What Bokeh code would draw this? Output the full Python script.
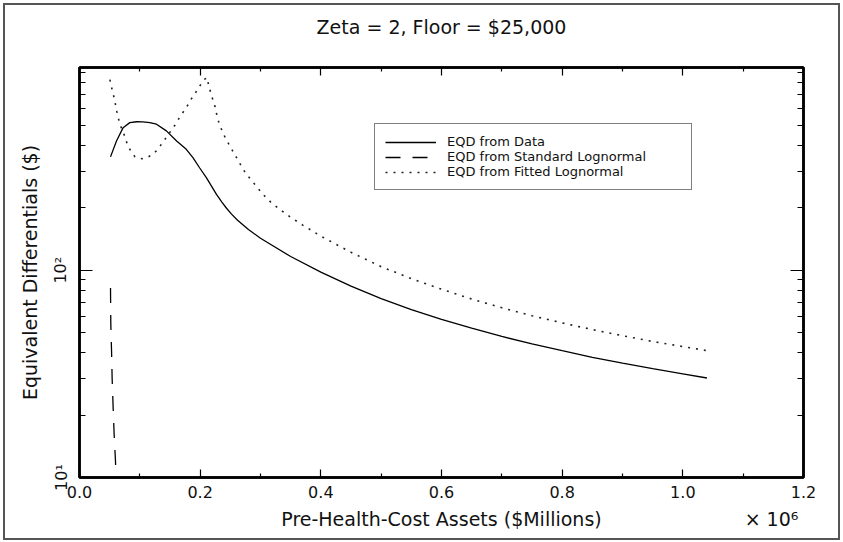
from bokeh.plotting import figure
from bokeh.models import (LinearAxis, LogAxis, FixedTicker, Legend, LegendItem,
                          Range1d)
from bokeh.embed import file_html
from bokeh.resources import INLINE

# ---------------- texts ----------------
title_text = "Zeta = 2, Floor = $25,000"
x_label = "Pre-Health-Cost Assets ($Millions)"
y_label = "Equivalent Differentials ($)"
x_scale_note = "\u00d7 10\u2076"
series_names = ["EQD from Data", "EQD from Standard Lognormal", "EQD from Fitted Lognormal"]

# ---------------- ticks ----------------
x_ticks = [0, 200000, 400000, 600000, 800000, 1000000, 1200000]
x_tick_labels = ["0.0", "0.2", "0.4", "0.6", "0.8", "1.0", "1.2"]
x_minor_ticks = [100000, 300000, 500000, 700000, 900000, 1100000]
y_ticks = [10, 100, 1000]
y_tick_labels = ["10\u00b9", "10\u00b2", "10\u00b3"]
y_minor_ticks = [20, 30, 40, 50, 60, 70, 80, 90, 200, 300, 400, 500, 600, 700, 800, 900]
x_min, x_max = 0, 1200000
y_min, y_max = 10, 950
# anchors (in x data units) of the axis-title row: centred title and the scale note
x_title_anchor = 600000
x_note_anchor = 1147000

# ---------------- data ----------------
data_x = [51400, 61300, 72300, 83400, 94500, 105000, 116500, 127600, 144000, 161000,
          177000, 188000, 199000, 210500, 227000, 236000, 243700, 252000, 262000, 280000,
          300000, 350000, 400000, 450000, 500000, 550000, 600000, 650000, 700000, 750000,
          800000, 850000, 900000, 950000, 1000000, 1040000]
data_y = [352, 420, 487, 515, 520, 519, 515, 506, 470, 420,
          383, 349, 312, 279, 232, 213, 199, 186.4, 174.1, 157.1,
          142.6, 116.4, 97.9, 83.7, 73.0, 64.6, 57.9, 52.5, 47.9, 44.1,
          40.9, 38.0, 35.6, 33.5, 31.6, 30.2]

std_x = [51400, 51500, 51900, 53100, 54100, 55700, 57400, 59700, 60600]
std_y = [82, 75, 55, 41, 30, 22, 16.2, 11.9, 9.5]

fit_x = [50400, 53000, 56000, 59000, 62000, 66000, 70000, 75000, 80000, 86000,
         92000, 100000, 104000, 112000, 118000, 124000, 130000, 137000, 144000, 151000,
         158000, 165000, 172000, 178000, 184000, 190000, 196000, 202000, 207000, 211500,
         213500, 217000, 220500, 224500, 227000, 229700, 233700, 238000, 243700, 250300,
         256300, 263000, 269500, 276800, 286100, 296000, 305500, 317000, 330300, 350000,
         370000, 400000, 450000, 500000, 550000, 600000, 650000, 700000, 750000, 800000,
         850000, 900000, 950000, 1000000, 1040000]
fit_y = [830, 765, 705, 645, 580, 518, 480, 443, 398, 372,
         352, 346, 345, 350, 357, 368, 383, 410, 437, 468,
         500, 540, 580, 615, 662, 700, 748, 795, 832, 850,
         795, 726, 672, 618, 571, 530, 491, 458, 424, 393,
         365, 339, 312, 290, 269, 248, 230, 213, 198, 180,
         165, 146, 122, 104, 91, 81, 72.6, 65.9, 60.3, 55.7,
         51.7, 48.3, 45.3, 42.8, 40.9]

FONT = "DejaVu Sans"
INK = "#111111"

p = figure(frame_width=724, frame_height=410,
           min_border_left=79, min_border_right=40,
           min_border_top=66, min_border_bottom=66,
           x_range=Range1d(x_min, x_max), y_range=Range1d(y_min, y_max),
           y_axis_type="log", output_backend="svg", toolbar_location=None,
           title=title_text, background_fill_color="white",
           border_fill_color="white", border_fill_alpha=0)
p.styles = {"background-color": "white",
            "box-shadow": "inset 0 0 0 3px white, inset 0 0 0 5px #555555"}

p.title.align = "center"
p.title.text_font = FONT
p.title.text_font_size = "19px"
p.title.text_font_style = "normal"
p.title.text_color = INK
p.title.standoff = 26

p.xgrid.visible = False
p.ygrid.visible = False
p.outline_line_color = "black"
p.outline_line_width = 2.5

x_over = {t: l for t, l in zip(x_ticks, x_tick_labels)}
y_over = {t: l for t, l in zip(y_ticks, y_tick_labels)}


def style_axis(ax, major_len, minor_len):
    ax.axis_line_color = "black"
    ax.axis_line_width = 2.5
    ax.major_tick_in = major_len
    ax.major_tick_out = 0
    ax.minor_tick_in = minor_len
    ax.minor_tick_out = 0
    ax.major_tick_line_color = "black"
    ax.minor_tick_line_color = "black"
    ax.major_tick_line_width = 1.2
    ax.minor_tick_line_width = 1.2
    ax.major_label_text_font = FONT
    ax.major_label_text_color = INK
    ax.axis_label_text_font = FONT
    ax.axis_label_text_font_style = "normal"
    ax.axis_label_text_color = INK


xa = p.xaxis[0]
xa.ticker = FixedTicker(ticks=x_ticks, minor_ticks=x_minor_ticks)
xa.major_label_overrides = x_over
style_axis(xa, 8, 4)
xa.major_label_text_font_size = "16px"
xa.major_label_standoff = 8

# second row below the x axis: the axis title and the "x 10^6" scale note
xa2 = LinearAxis(ticker=FixedTicker(ticks=[x_title_anchor, x_note_anchor]))
xa2.major_label_overrides = {x_title_anchor: x_label, x_note_anchor: x_scale_note}
xa2.axis_line_color = None
xa2.major_tick_line_color = None
xa2.minor_tick_line_color = None
xa2.major_tick_in = 0
xa2.major_tick_out = 0
xa2.minor_tick_in = 0
xa2.minor_tick_out = 0
xa2.major_label_standoff = 7
xa2.major_label_text_font = FONT
xa2.major_label_text_font_size = "19px"
xa2.major_label_text_color = INK
p.add_layout(xa2, "below")

ya = p.yaxis[0]
ya.ticker = FixedTicker(ticks=y_ticks, minor_ticks=y_minor_ticks)
ya.major_label_overrides = y_over
style_axis(ya, 13, 6)
ya.major_label_text_font_size = "16px"
ya.major_label_orientation = "vertical"
ya.major_label_standoff = 9
ya.axis_label = y_label
ya.axis_label_text_font_size = "19px"
ya.axis_label_standoff = 8

top = LinearAxis(ticker=FixedTicker(ticks=x_ticks, minor_ticks=x_minor_ticks))
style_axis(top, 8, 4)
top.major_label_text_font_size = "1px"
top.major_label_text_color = "white"
top.major_label_standoff = 13
p.add_layout(top, "above")

right = LogAxis(ticker=FixedTicker(ticks=y_ticks, minor_ticks=y_minor_ticks))
style_axis(right, 13, 6)
right.major_label_text_font_size = "1px"
right.major_label_text_alpha = 0
right.major_label_standoff = 0
p.add_layout(right, "right")

r_data = p.line(data_x, data_y, line_color="black", line_width=1.3)
r_std = p.line(std_x, std_y, line_color="black", line_width=1.3, line_dash="15 12")
r_fit = p.line(fit_x, fit_y, line_color="#222222", line_width=1.6, line_dash="2 6")

legend = Legend(items=[LegendItem(label=series_names[0], renderers=[r_data]),
                       LegendItem(label=series_names[1], renderers=[r_std]),
                       LegendItem(label=series_names[2], renderers=[r_fit])],
                location=(295, 287), margin=0, padding=10, spacing=0,
                glyph_width=51, glyph_height=12, label_height=12,
                label_standoff=11, label_width=234,
                label_text_font=FONT, label_text_font_size="13px",
                label_text_color=INK,
                border_line_color="black", border_line_width=1,
                background_fill_color="white", background_fill_alpha=1)
p.add_layout(legend, "center")

open("out.html", "w").write(file_html(p, INLINE))
